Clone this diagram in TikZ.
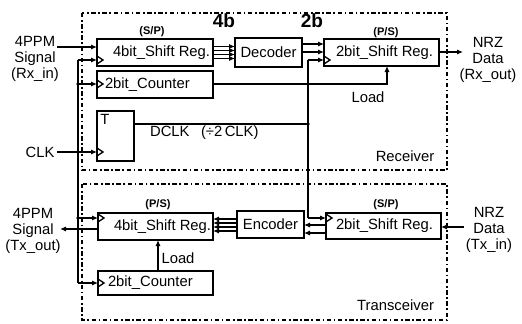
\documentclass[tikz,border=0pt]{standalone}
\usepackage{fontspec}
\setmainfont{Liberation Sans}
\usetikzlibrary{arrows.meta}
\newcommand\bxt[3]{\makebox[#1][l]{\hspace*{#2}#3}}
\begin{document}
\begin{tikzpicture}[x=0.5pt,y=-0.5pt,
  font=\fontsize{7.4}{8}\selectfont,
  blk/.style={draw, line width=0.9pt, anchor=north west, inner xsep=0pt, inner ysep=0pt, outer sep=0pt},
  wire/.style={line width=0.65pt},
  arr/.style={wire, -{Latex[length=3pt,width=2.6pt]}},
  frame/.style={line width=0.6pt, dash pattern=on 2.2pt off 1.3pt on 0.8pt off 1.3pt},
  tag/.style={font=\fontsize{5.5}{6}\selectfont\bfseries},
  bw/.style={font=\fontsize{9.5}{10}\selectfont\bfseries},
]
\useasboundingbox (0,0) rectangle (522,323);
% frames
\draw[frame] (82,13) rectangle (447,170);
\draw[frame] (82,184) rectangle (447,320);
% receiver blocks
\node[blk, minimum width=58pt, minimum height=13.5pt] (rsr) at (97,39) {\bxt{58pt}{8pt}{4bit\_Shift Reg.}};
\node[blk, minimum width=58pt, minimum height=13.5pt] (rcnt) at (97,71) {\bxt{58pt}{4pt}{2bit\_Counter}};
\node[blk, minimum width=18.5pt, minimum height=25pt,
      label={[anchor=north west, inner sep=1.5pt]north west:T}] (tff) at (97,111) {};
\node[blk, minimum width=33.5pt, minimum height=14.5pt] (dec) at (235,38) {Decoder};
\node[blk, minimum width=57.5pt, minimum height=13.5pt] (rsr2) at (324,39) {\bxt{57.5pt}{6pt}{2bit\_Shift Reg.}};
% transceiver blocks
\node[blk, minimum width=57.5pt, minimum height=13.5pt] (tsr) at (98,213) {\bxt{57.5pt}{8pt}{4bit\_Shift Reg.}};
\node[blk, minimum width=57.5pt, minimum height=12pt] (tcnt) at (98,271) {\bxt{57.5pt}{5pt}{2bit\_Counter}};
\node[blk, minimum width=33.5pt, minimum height=13.5pt] (enc) at (237,211) {Encoder};
\node[blk, minimum width=57.5pt, minimum height=13pt] (tsr2) at (326,213) {\bxt{57.5pt}{5pt}{2bit\_Shift Reg.}};
% clock triangles
\draw[wire] (rsr.west |- 0,56) -- ++(6,4) -- ++(-6,4);
\draw[wire] (rcnt.west |- 0,80) -- ++(6,4) -- ++(-6,4);
\draw[wire] (tff.west |- 0,148) -- ++(6,4) -- ++(-6,4);
\draw[wire] (rsr2.west |- 0,56) -- ++(6,4) -- ++(-6,4);
\draw[wire] (tsr.west |- 0,214) -- ++(6,4) -- ++(-6,4);
\draw[wire] (tcnt.west |- 0,279) -- ++(6,4) -- ++(-6,4);
\draw[wire] (tsr2.west |- 0,214) -- ++(6,4) -- ++(-6,4);
% labels
\node[align=center] (rxin) at (35,59) {4PPM\\Signal\\(Rx\_in)};
\node (clk) at (40,152) {CLK};
\node[align=center] (txout) at (33,231) {4PPM\\Signal\\(Tx\_out)};
\node[align=center] (rxout) at (488,60) {NRZ\\Data\\(Rx\_out)};
\node[align=center] (txin) at (489,230) {NRZ\\Data\\(Tx\_in)};
\node[anchor=west] (dclk) at (143,133) {DCLK\enspace\ (÷2\,CLK)};
\node (ldr) at (368,97) {Load};
\node (ldt) at (178,258) {Load};
\node (rlab) at (405,156) {Receiver};
\node[anchor=east] (tlab) at (441,305) {Transceiver};
\node[tag] (t1) at (152,32) {(S/P)};
\node[tag] (t2) at (386,33) {(P/S)};
\node[tag] (t3) at (158,205) {(P/S)};
\node[tag] (t4) at (386,205) {(S/P)};
\node[bw] (b4) at (224,21) {4b};
\node[bw] (b2) at (312,21) {2b};
% coordinates
\coordinate (rxinS) at (57,47);
\coordinate (busTop) at (78,60);
\coordinate (busBot) at (78,283);
\coordinate (j1) at (78,84);
\coordinate (clkS) at (57,152);
\coordinate (j2) at (78,152);
\coordinate (j3) at (78,218);
\coordinate (txoutE) at (60,229);
\coordinate (dj) at (308,124);
\coordinate (dTop) at (308,60);
\coordinate (dBot) at (308,218);
\coordinate (rxoutE) at (463,52);
\coordinate (ldR) at (387,84);
\coordinate (txinS) at (464,227);
% wires
\draw[arr] (rxinS) -- (rsr.west |- rxinS);
\draw[wire] (busTop) -- (busBot);
\draw[arr] (busTop) -- (rsr.west |- busTop);
\draw[arr] (j1) -- (rcnt.west |- j1);
\draw[arr] (clkS) -- (tff.west |- clkS);
\draw[arr] (j3) -- (tsr.west |- j3);
\draw[arr] (busBot) -- (tcnt.west |- busBot);
\draw[arr] (tsr.west |- txoutE) -- (txoutE);
\foreach \p in {j1,j2,j3,dj} \fill (\p) circle[radius=0.9pt];
\draw[wire] (tff.east |- dj) -- (dj);
\draw[wire] (dTop) -- (dBot);
\draw[arr] (dTop) -- (rsr2.west |- dTop);
\draw[arr] (dBot) -- (tsr2.west |- dBot);
\foreach \y in {46.5,50.5,54.5,58.5} \draw[arr] (rsr.east |- 0,\y) -- (dec.west |- 0,\y);
\foreach \y in {44,52} \draw[arr] (dec.east |- 0,\y) -- (rsr2.west |- 0,\y);
\draw[arr] (rsr2.east |- rxoutE) -- (rxoutE);
\draw[arr] (rcnt.east |- ldR) -- (ldR) -- (rsr2.south -| ldR);
\draw[arr] (tcnt.north -| 158,0) -- (tsr.south -| 158,0);
\foreach \y in {219,223,227,231} \draw[arr] (enc.west |- 0,\y) -- (tsr.east |- 0,\y);
\foreach \y in {225,233} \draw[arr] (tsr2.west |- 0,\y) -- (enc.east |- 0,\y);
\draw[arr] (txinS) -- (tsr2.east |- txinS);
\end{tikzpicture}
\end{document}
